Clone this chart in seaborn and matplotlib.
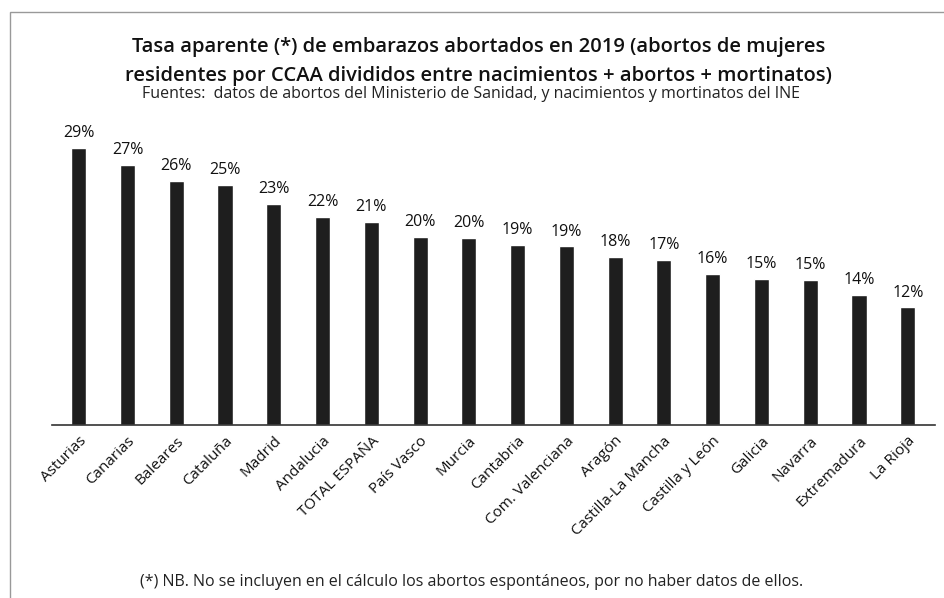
import matplotlib
matplotlib.use("Agg")
import matplotlib.pyplot as plt
import pandas as pd
import seaborn as sns
from matplotlib.patches import Rectangle

regions = [
    "Asturias", "Canarias", "Baleares", "Cataluña", "Madrid", "Andalucia",
    "TOTAL ESPAÑA", "País Vasco", "Murcia", "Cantabria", "Com. Valenciana",
    "Aragón", "Castilla-La Mancha", "Castilla y León", "Galicia", "Navarra",
    "Extremadura", "La Rioja",
]
rates = [
    0.292, 0.274, 0.257, 0.253, 0.233, 0.219, 0.214, 0.198, 0.197,
    0.190, 0.188, 0.177, 0.174, 0.159, 0.154, 0.153, 0.137, 0.124,
]

title = ("Tasa aparente (*) de embarazos abortados en 2019 (abortos de mujeres\n"
         "residentes por CCAA divididos entre nacimientos + abortos + mortinatos)")
subtitle = ("Fuentes:  datos de abortos del Ministerio de Sanidad, "
            "y nacimientos y mortinatos del INE")
footnote = ("(*) NB. No se incluyen en el cálculo los abortos espontáneos, "
            "por no haber datos de ellos.")

df = pd.DataFrame({"region": regions, "rate": rates})

sns.set_theme(style="white")
plt.rcParams["font.family"] = ["Open Sans", "DejaVu Sans"]

fig = plt.figure(figsize=(9.44, 5.98), dpi=100)
ax = fig.add_axes([0.055, 0.289, 0.935, 0.477])

sns.barplot(data=df, x="region", y="rate", color="#1e1e1e", width=0.31,
            saturation=1, ax=ax)

for i, v in enumerate(rates):
    ax.text(i, v + 0.007, f"{v:.0%}", ha="center", va="bottom",
            fontsize=11.5, color="#111111")

ax.set_ylim(0, 0.30)
ax.set_xlim(-0.55, len(regions) - 0.45)
ax.set_yticks([])
ax.set_xlabel("")
ax.set_ylabel("")
for side in ["top", "right", "left"]:
    ax.spines[side].set_visible(False)
ax.spines["bottom"].set_color("#333333")
ax.spines["bottom"].set_linewidth(1.2)
ax.tick_params(axis="x", length=0, pad=6)
plt.setp(ax.get_xticklabels(), rotation=45, ha="right",
         rotation_mode="anchor", fontsize=11, color="#111111")

fig.text(0.507, 0.897, title, ha="center", va="center", fontsize=14.5,
         fontweight="semibold", linespacing=1.55, color="#111111")
fig.text(0.499, 0.843, subtitle, ha="center", va="center", fontsize=11.5,
         color="#222222")
fig.text(0.50, 0.027, footnote, ha="center", va="center", fontsize=11.5,
         color="#222222")

fig.patches.append(Rectangle((0.011, -0.01), 1.0, 0.99, transform=fig.transFigure,
                             fill=False, edgecolor="#999999", linewidth=1.0))

fig.savefig("out.png", dpi=100)
